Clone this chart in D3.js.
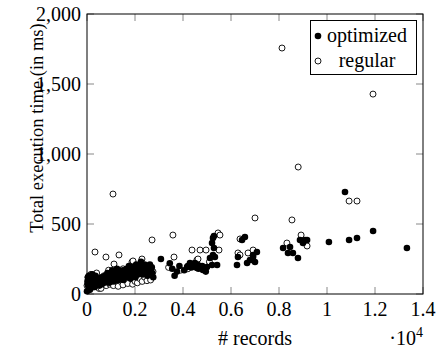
<!DOCTYPE html>
<html>
<head>
<meta charset="utf-8">
<script src="https://cdn.jsdelivr.net/npm/d3@7"></script>
<style>
  body { margin: 0; background: #fff; }
</style>
</head>
<body>
<div id="chart"></div>
<script>
// optimized series: # records / total execution time (ms)
const optimizedRecords = [0, 20, 30, 50, 60, 80, 100, 120, 150, 180, 200, 250, 300, 320, 380, 420, 480, 550, 600, 650, 700,
  750, 800, 850, 900, 950, 1000, 1050, 1100, 1150, 1200, 1250, 1300, 1350, 1400, 1450, 1500, 1550, 1600, 1650, 1700,
  1750, 1800, 1850, 1900, 1950, 2000, 2050, 2100, 2150, 2200, 2250, 2300, 2350, 2400, 2450, 2500, 2550, 2600, 2650, 2700,
  40, 90, 140, 220, 280, 350, 450, 520, 620, 720, 820, 920, 1020, 1120, 1220, 1320, 1420, 1520, 1620, 1720, 1820, 1920,
  2020, 2120, 2220, 2320, 2420, 2520, 2620, 2720, 2760,
  3080, 3450, 3550, 3650, 3750, 3850, 4050, 4170, 4200, 4290, 4350, 4450, 4500, 4580, 4625, 4650, 4800, 4830, 4950, 5000,
  5125, 5210, 5210, 5250, 5250, 5290, 5290, 5330, 5420, 6250, 6290, 6460, 6580, 6670, 6790, 6880, 6920, 6920, 7000, 7080,
  8170, 8375, 8460, 8580, 8790, 8875, 9000, 9080, 9170, 10080, 10750, 10920, 11250, 11920, 13330]
const optimizedTime = [20, 90, 70, 100, 55, 130, 80, 30, 90, 60, 110, 75, 95, 50, 85, 110, 70, 90, 120, 80, 100,
  130, 95, 150, 110, 140, 90, 170, 120, 150, 100, 180, 130, 160, 110, 140, 170, 125, 150, 180, 130,
  200, 160, 140, 190, 170, 150, 210, 180, 160, 200, 230, 170, 190, 210, 150, 180, 200, 170, 160, 190,
  120, 40, 110, 140, 60, 130, 95, 60, 70, 80, 120, 80, 120, 90, 140, 100, 160, 100, 120, 160, 110, 150,
  120, 140, 170, 140, 180, 130, 210, 150, 120,
  250, 220, 180, 130, 160, 200, 170, 193, 200, 221, 190, 215, 221, 186, 207, 180, 200, 171, 160, 193,
  257, 207, 364, 279, 400, 329, 414, 264, 207, 207, 264, 386, 407, 221, 243, 243, 264, 279, 229, 300,
  329, 293, 336, 293, 257, 386, 364, 386, 386, 371, 729, 386, 400, 450, 329]

// regular series
const regularRecords = [0, 40, 80, 120, 160, 200, 260, 333, 350, 400, 450, 500, 583, 600, 700, 790, 800, 850, 900, 950,
  1000, 1083, 1100, 1125, 1200, 1250, 1300, 1333, 1400, 1450, 1500, 1500, 1600, 1700, 1700, 1800, 1875, 1900, 1917, 2000,
  2100, 2100, 2200, 2290, 2300, 2350, 2400, 2500, 2500, 2600, 2650, 2710, 2750,
  3400, 3580, 3625, 3900, 4200, 4375, 4580, 4625, 4710, 4960, 5100, 5460, 5500, 5540, 6290, 6375, 6375, 6710, 6920, 7000,
  8125, 8330, 8540, 8800, 8920, 9170, 10920, 11250, 11917]
const regularTime = [60, 120, 30, 90, 140, 70, 50, 300, 110, 150, 60, 40, 40, 90, 130, 264, 60, 100, 170, 70,
  120, 714, 60, 214, 150, 110, 55, 279, 90, 130, 180, 65, 100, 150, 75, 120, 229, 70, 236, 90,
  140, 80, 110, 250, 90, 170, 120, 150, 95, 130, 100, 386, 160,
  190, 421, 264, 170, 180, 314, 243, 250, 314, 314, 230, 436, 314, 421, 293, 393, 279, 293, 314, 543,
  1757, 364, 529, 907, 421, 343, 664, 664, 1428]

const xTicks = [0, 2000, 4000, 6000, 8000, 10000, 12000, 14000]
const yTicks = [0, 500, 1000, 1500, 2000]
const seriesNames = ['optimized', 'regular']

const width = 436, height = 349
const plotLeft = 87, plotRight = 423, plotTop = 14, plotBottom = 294

const svg = d3.select('#chart').append('svg')
  .attr('width', width)
  .attr('height', height)
  .attr('font-family', 'Liberation Serif')

const x = d3.scaleLinear().domain([0, 14000]).range([plotLeft, plotRight])
const y = d3.scaleLinear().domain([0, 2000]).range([plotBottom, plotTop])

const tickLen = 7
const tickColor = '#888'
const tickG = svg.append('g').attr('stroke', tickColor).attr('stroke-width', 1)

// ticks pointing inward on all four sides
tickG.selectAll('.xb').data(xTicks).join('line')
  .attr('x1', d => x(d)).attr('x2', d => x(d))
  .attr('y1', plotBottom).attr('y2', plotBottom - tickLen)
tickG.selectAll('.xt').data(xTicks).join('line')
  .attr('x1', d => x(d)).attr('x2', d => x(d))
  .attr('y1', plotTop).attr('y2', plotTop + tickLen)
tickG.selectAll('.yl').data(yTicks).join('line')
  .attr('x1', plotLeft).attr('x2', plotLeft + tickLen)
  .attr('y1', d => y(d)).attr('y2', d => y(d))
tickG.selectAll('.yr').data(yTicks).join('line')
  .attr('x1', plotRight).attr('x2', plotRight - tickLen)
  .attr('y1', d => y(d)).attr('y2', d => y(d))

const fs = 20
const fmtX = d => d3.format('~g')(d / 10000)
svg.append('g').selectAll('text').data(xTicks).join('text')
  .attr('x', d => x(d))
  .attr('y', 316)
  .attr('text-anchor', 'middle')
  .attr('font-size', fs)
  .text(fmtX)

svg.append('g').selectAll('text').data(yTicks).join('text')
  .attr('x', 81)
  .attr('y', d => y(d))
  .attr('dy', '0.35em')
  .attr('text-anchor', 'end')
  .attr('font-size', fs)
  .text(d => d3.format(',')(d))

// axis labels
svg.append('text')
  .attr('x', 255).attr('y', 345)
  .attr('text-anchor', 'middle')
  .attr('font-size', fs)
  .text('# records')

const mult = svg.append('text')
  .attr('x', 423).attr('y', 345)
  .attr('text-anchor', 'end')
  .attr('font-size', fs)
mult.append('tspan').text('·10')
mult.append('tspan').attr('font-size', 14).attr('dy', -8).text('4')

svg.append('text')
  .attr('transform', 'translate(43,128) rotate(-90)')
  .attr('text-anchor', 'middle')
  .attr('font-size', 18.5)
  .text('Total execution time (in ms)')

// points: regular first, optimized on top
const optData = d3.zip(optimizedRecords, optimizedTime)
const regData = d3.zip(regularRecords, regularTime)

svg.append('g').selectAll('circle').data(regData).join('circle')
  .attr('cx', d => x(d[0]))
  .attr('cy', d => y(d[1]))
  .attr('r', 3)
  .attr('fill', '#fff')
  .attr('stroke', '#000')
  .attr('stroke-width', 0.9)

svg.append('g').selectAll('circle').data(optData).join('circle')
  .attr('cx', d => x(d[0]))
  .attr('cy', d => y(d[1]))
  .attr('r', 3.3)
  .attr('fill', '#000')

// frame
svg.append('rect')
  .attr('x', plotLeft).attr('y', plotTop)
  .attr('width', plotRight - plotLeft).attr('height', plotBottom - plotTop)
  .attr('fill', 'none')
  .attr('stroke', '#000')
  .attr('stroke-width', 1)

// legend
const lg = svg.append('g')
lg.append('rect')
  .attr('x', 310.5).attr('y', 20.5)
  .attr('width', 106).attr('height', 54)
  .attr('fill', '#fff')
  .attr('stroke', '#000')
  .attr('stroke-width', 1)

lg.selectAll('circle').data(seriesNames).join('circle')
  .attr('cx', 318)
  .attr('cy', (_, i) => 36 + 25 * i)
  .attr('r', (_, i) => i === 0 ? 3.3 : 3)
  .attr('fill', (_, i) => i === 0 ? '#000' : '#fff')
  .attr('stroke', '#000')
  .attr('stroke-width', (_, i) => i === 0 ? 0 : 0.9)

lg.selectAll('text').data(seriesNames).join('text')
  .attr('x', 367)
  .attr('y', (_, i) => 36 + 25 * i)
  .attr('dy', '0.3em')
  .attr('text-anchor', 'middle')
  .attr('font-size', fs)
  .text(d => d)
</script>
</body>
</html>
